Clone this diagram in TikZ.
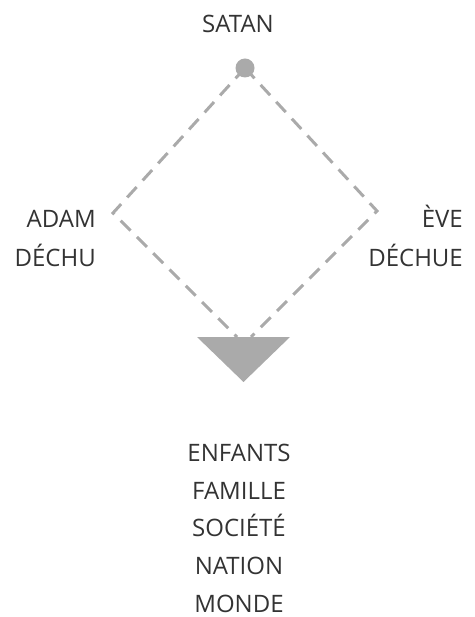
\documentclass[tikz,border=0pt]{standalone}
\usepackage{fontspec}
\setmainfont{Open Sans}
\definecolor{lgray}{RGB}{170,170,170}
\begin{document}
\begin{tikzpicture}[x=1pt,y=-1pt,
  lbl/.style={font=\fontsize{24}{39}\selectfont, text=black!80, inner sep=0pt},
  lst/.style={font=\fontsize{24}{37.6}\selectfont, text=black!80, inner sep=0pt},
  conn/.style={draw=lgray, line width=3pt, dash pattern=on 14pt off 9pt}]
\useasboundingbox (0,0) rectangle (474,617);
\node[circle, fill=lgray, minimum size=19pt, inner sep=0pt] (satan) at (245,68) {};
\node[lbl, anchor=base] (satanl) at (238,33) {SATAN};
\coordinate (adam) at (113,213);
\coordinate (eve) at (377,211);
\coordinate (t1) at (237,337);
\coordinate (t2) at (251,337);
\draw[conn] (satan.center) -- (adam) -- (t1);
\draw[conn] (satan.center) -- (eve) -- (t2);
\fill[lgray] (197,337) -- (290,337) -- (243.5,382) -- cycle;
\node[lbl, align=right, anchor=base east] (adaml) at (96,266) {ADAM\\DÉCHU};
\node[lbl, align=right, anchor=base east] (evel) at (463,266) {ÈVE\\DÉCHUE};
\node[lst, align=center, anchor=base] (list) at (239,612) {ENFANTS\\FAMILLE\\SOCIÉTÉ\\NATION\\MONDE};
\end{tikzpicture}
\end{document}
